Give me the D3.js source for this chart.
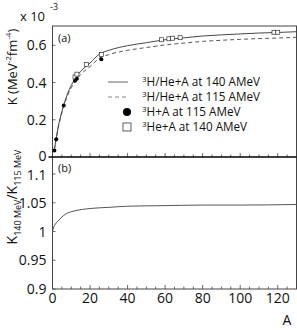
<!DOCTYPE html>
<html><head><meta charset="utf-8">
<script src="https://cdn.jsdelivr.net/npm/d3@7"></script>
<style>body{margin:0;background:#fff}svg{display:block;font-family:"Open Sans",sans-serif}</style>
</head><body><svg id="c" width="297" height="330"></svg>
<script>
// ---- data ----
const curveA   = [1, 2, 3, 4, 6, 8, 10, 12, 15, 20, 25, 30, 40, 50, 60, 70, 80, 90, 100, 110, 120, 130];
const k140     = [0.040, 0.100, 0.160, 0.205, 0.280, 0.340, 0.385, 0.420, 0.460, 0.505, 0.553, 0.573, 0.598, 0.614, 0.630, 0.640, 0.650, 0.656, 0.661, 0.666, 0.669, 0.673];
const k115     = [0.040, 0.098, 0.157, 0.200, 0.272, 0.329, 0.372, 0.405, 0.443, 0.486, 0.531, 0.550, 0.573, 0.588, 0.602, 0.612, 0.621, 0.627, 0.632, 0.636, 0.639, 0.643];
const filledA  = [1, 2, 6, 12, 13, 26];
const filledK  = [0.035, 0.095, 0.277, 0.410, 0.420, 0.525];
const openA    = [12, 13, 18, 26, 58, 62, 64, 68, 118, 120];
const openK    = [0.430, 0.445, 0.497, 0.550, 0.630, 0.635, 0.638, 0.641, 0.670, 0.670];
const ratioA   = [0, 0.5, 1, 2, 4, 6, 8, 12, 20, 30, 40, 60, 80, 100, 130];
const ratioV   = [1.000, 1.006, 1.010, 1.015, 1.022, 1.028, 1.032, 1.036, 1.040, 1.042, 1.044, 1.045, 1.046, 1.046, 1.047];
const xTicks   = [0, 20, 40, 60, 80, 100, 120];
const topTicks = [0, 0.2, 0.4, 0.6];
const botTicks = [0.9, 0.95, 1, 1.05, 1.1];
const legendLabels = [["3","H/He+A at 140 AMeV"],["3","H/He+A at 115 AMeV"],["3","H+A at 115 AMeV"],["3","He+A at 140 AMeV"]];

// ---- layout ----
const svg = d3.select("#c");
const L = 52.5, R = 296.5, T = 26, M = 157, B = 289;
const x = d3.scaleLinear().domain([0, 130]).range([L, R]);
const yT = d3.scaleLinear().domain([0, 0.7037]).range([M, T]);
const yB = d3.scaleLinear().domain([0.9, 1.1296]).range([B, M]);
const col = "#444";

// frame
svg.append("rect").attr("x", L).attr("y", T).attr("width", R - L).attr("height", B - T)
  .attr("fill", "none").attr("stroke", col).attr("stroke-width", 1);

// x axes (ticks inside)
function xAxis(yPos, labels) {
  const g = svg.append("g").attr("transform", `translate(0,${yPos})`);
  const minor = d3.range(0, 131, 5);
  g.selectAll("line.t").data(minor).join("line")
    .attr("x1", d => x(d)).attr("x2", d => x(d)).attr("y1", 0)
    .attr("y2", d => d % 20 === 0 ? -4 : -2.5).attr("stroke", col).attr("stroke-width", 0.8);
  if (labels) {
    g.selectAll("text").data(xTicks).join("text")
      .attr("x", d => x(d)).attr("y", 14).attr("text-anchor", "middle")
      .attr("font-size", 14).attr("fill", "#111").text(d => d);
  }
}
xAxis(M, false);
xAxis(B, true);
svg.append("line").attr("x1", L - 4).attr("x2", R).attr("y1", M).attr("y2", M)
  .attr("stroke", "#000").attr("stroke-width", 1.6);

// y axes
function yAxis(scale, ticks, fmt, shift) {
  const g = svg.append("g");
  g.selectAll("line").data(ticks).join("line")
    .attr("x1", L).attr("x2", L + 3).attr("y1", d => scale(d)).attr("y2", d => scale(d))
    .attr("stroke", col).attr("stroke-width", 0.8);
  g.selectAll("text").data(ticks).join("text")
    .attr("x", L - 6).attr("y", d => scale(d) + shift(d)).attr("dy", "0.36em")
    .attr("text-anchor", "end").attr("font-size", 14).attr("fill", "#111").text(fmt);
}
yAxis(yT, topTicks, d => d === 0 ? "0" : d3.format(".1f")(d), d => d === 0 ? -1.5 : 0);
yAxis(yB, botTicks, d => String(d), d => d === 1.1 ? 1 : 0);

// curves
const lineT = (arr) => d3.line().x((d, i) => x(curveA[i])).y((d, i) => yT(arr[i])).curve(d3.curveMonotoneX);
svg.append("path").datum(k140).attr("d", lineT(k140)).attr("fill", "none").attr("stroke", "#333").attr("stroke-width", 0.9);
svg.append("path").datum(k115).attr("d", lineT(k115)).attr("fill", "none").attr("stroke", "#444")
  .attr("stroke-width", 0.9).attr("stroke-dasharray", "4,3");
svg.append("path").datum(ratioV)
  .attr("d", d3.line().x((d, i) => x(ratioA[i])).y(d => yB(d)).curve(d3.curveMonotoneX)(ratioV))
  .attr("fill", "none").attr("stroke", "#555").attr("stroke-width", 1);

// points
svg.append("g").selectAll("rect").data(openA).join("rect")
  .attr("x", (d, i) => x(d) - 2).attr("y", (d, i) => yT(openK[i]) - 2)
  .attr("width", 4).attr("height", 4).attr("fill", "#fff").attr("stroke", "#333").attr("stroke-width", 0.7);
svg.append("g").selectAll("circle").data(filledA).join("circle")
  .attr("cx", d => x(d)).attr("cy", (d, i) => yT(filledK[i])).attr("r", 2).attr("fill", "#000");

// legend
const lg = svg.append("g");
const ly = [82, 97, 112, 127];
lg.append("line").attr("x1", 108).attr("x2", 128).attr("y1", ly[0]).attr("y2", ly[0]).attr("stroke", "#555").attr("stroke-width", 0.9);
lg.append("line").attr("x1", 108).attr("x2", 128).attr("y1", ly[1]).attr("y2", ly[1]).attr("stroke", "#777").attr("stroke-width", 0.9).attr("stroke-dasharray", "4,3");
lg.append("circle").attr("cx", 127).attr("cy", ly[2]).attr("r", 4).attr("fill", "#000");
lg.append("rect").attr("x", 123).attr("y", ly[3] - 4).attr("width", 8).attr("height", 8).attr("fill", "#fff").attr("stroke", "#333").attr("stroke-width", 0.8);
legendLabels.forEach((lab, i) => {
  const t = lg.append("text").attr("x", 142).attr("y", ly[i] + 4).attr("font-size", 11.7).attr("fill", "#111");
  t.append("tspan").attr("font-size", 8).attr("dy", -4).text(lab[0]);
  t.append("tspan").attr("dy", 4).text(lab[1]);
});

// panel labels
svg.append("text").attr("x", 58).attr("y", 42).attr("font-size", 11).attr("fill", "#111").text("(a)");
svg.append("text").attr("x", 58).attr("y", 172).attr("font-size", 11).attr("fill", "#111").text("(b)");

// multiplier
svg.append("text").attr("x", 20).attr("y", 21).attr("font-size", 13).attr("fill", "#111").text("x 10");
svg.append("text").attr("x", 50).attr("y", 10).attr("font-size", 9).attr("fill", "#111").text("-3");

// axis titles
const yl = svg.append("text").attr("transform", "translate(17,67) rotate(-90)")
  .attr("text-anchor", "middle").attr("font-size", 13).attr("fill", "#111");
yl.append("tspan").text("K (MeV");
yl.append("tspan").attr("font-size", 8).attr("dy", -6).text("-2");
yl.append("tspan").attr("dy", 6).text("fm");
yl.append("tspan").attr("font-size", 8).attr("dy", -6).text("-4");
yl.append("tspan").attr("dy", 6).text(")");

const bl = svg.append("text").attr("transform", "translate(17,197) rotate(-90)")
  .attr("text-anchor", "middle").attr("font-size", 14).attr("fill", "#111");
bl.append("tspan").text("K");
bl.append("tspan").attr("font-size", 9).attr("dy", 4).text("140 MeV");
bl.append("tspan").attr("dy", -4).text("/K");
bl.append("tspan").attr("font-size", 9).attr("dy", 4).text("115 MeV");

svg.append("text").attr("x", 287).attr("y", 325).attr("text-anchor", "middle").attr("font-size", 14).attr("fill", "#111").text("A");
</script></body></html>
